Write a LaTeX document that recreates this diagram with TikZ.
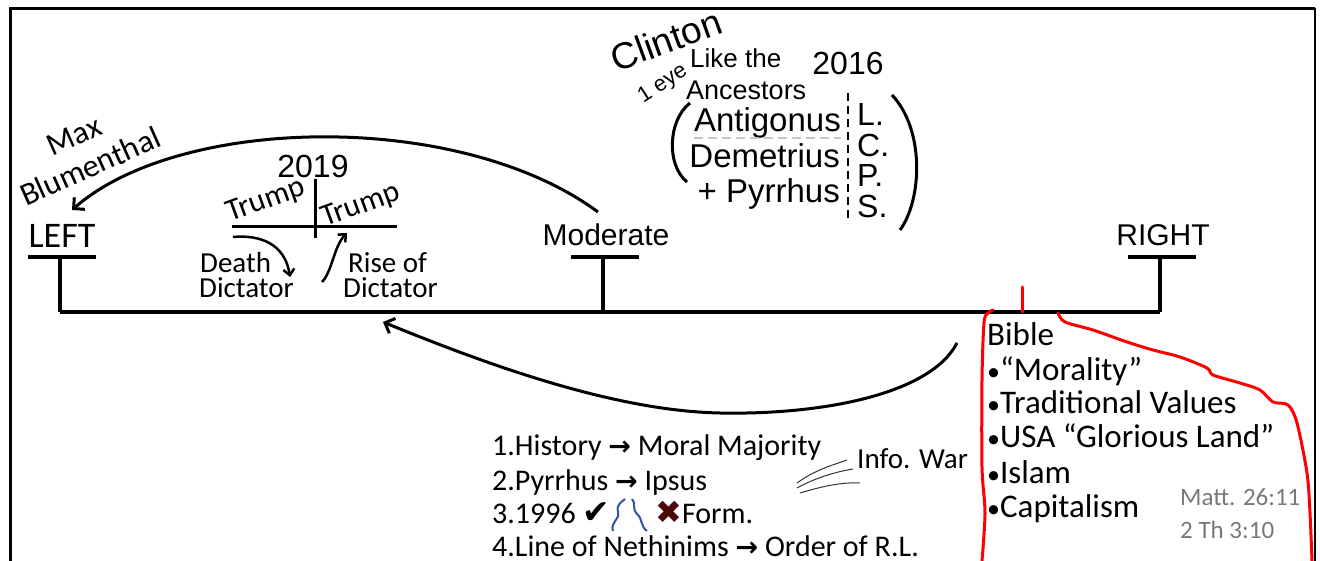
\documentclass[tikz,border=0pt]{standalone}
\usepackage{fontspec}
\setmainfont{Carlito}
\newfontfamily\arialfont{Liberation Sans}
\newfontfamily\symfont{DejaVu Sans}
\newfontfamily\symboldfont{DejaVu Sans Bold}
\usetikzlibrary{arrows.meta}

\definecolor{penred}{RGB}{255,0,0}
\definecolor{penblue}{RGB}{47,85,160}
\definecolor{crossred}{RGB}{75,10,10}
\definecolor{refgray}{RGB}{120,120,120}
\newcommand{\fsz}[1]{\fontsize{#1}{#1}\selectfont}
\newcommand{\listarrow}{{\symboldfont\fsz{27}→}}

\tikzset{
  lbl/.style={inner sep=0pt, anchor=base},
  lblw/.style={inner sep=0pt, anchor=base west},
  post/.style={line width=4pt},
  bigarrow/.style={line width=3pt, -{Straight Barb[length=8pt,width=16pt]}},
  smallarrow/.style={line width=2.5pt, -{Straight Barb[length=6pt,width=11pt]}},
  penline/.style={penred, line width=3pt, line cap=round, line join=round},
}

\begin{document}
\begin{tikzpicture}[x=1pt,y=-1pt]
        \useasboundingbox (0,0) rectangle (1320,561);

        % Frame
        \draw[line width=3pt] (10,561) -- (10,9) -- (1315,9);
        \draw[line width=2pt] (1315,8) -- (1315,561);

        % Define the scale
        \coordinate (axL) at (60,312);
        \coordinate (axM) at (603,312);
        \coordinate (axR) at (1160,312);
        \draw[post] (axL) -- (axR);
        \foreach \p in {axL,axM,axR}
            \draw[post] (\p) -- ++(0,-55) ++(-32,0) -- ++(68,0);

        \node[lbl, font=\fsz{36}] (left) at (62,248) {LEFT};
        \node[lbl, font=\arialfont\fsz{30}] (moderate) at (606,246) {Moderate};
        \node[lbl, font=\arialfont\fsz{30}] (right) at (1163,246) {RIGHT};

        % Max Blumenthal
        \node[font=\fsz{32}, rotate=24, inner sep=0pt] (max) at (74,136) {Max};
        \node[font=\fsz{32}, rotate=24, inner sep=0pt] (blum) at (90,166) {Blumenthal};
        \coordinate (upL) at (72,210);
        \coordinate (upM) at (598,212);
        \draw[bigarrow, {Straight Barb[length=8pt,width=16pt]}-] (upL) .. controls (180,115) and (460,110) .. (upM);

        % 2019 and Trump
        \node[lbl, font=\arialfont\fsz{32}] (y2019) at (313,178) {2019};
        \coordinate (tcL) at (232,227);
        \coordinate (tcR) at (397,227);
        \coordinate (tcT) at (315,179);
        \coordinate (tcB) at (315,238);
        \draw[line width=3pt] (tcL) -- (tcR);
        \draw[line width=3pt] (tcT) -- (tcB);
        \node[font=\fsz{31}, rotate=20, inner sep=0pt] (trumpA) at (266,201) {Trump};
        \node[font=\fsz{31}, rotate=20, inner sep=0pt] (trumpB) at (361,206) {Trump};

        \node[lblw, font=\fsz{29}] (death) at (200,273) {Death};
        \node[lblw, font=\fsz{29}] (dictA) at (199,298) {Dictator};
        \node[lblw, font=\fsz{29}] (rise) at (348,273) {Rise of};
        \node[lblw, font=\fsz{29}] (dictB) at (343,298) {Dictator};
        \coordinate (dthA) at (233,237);
        \coordinate (dthB) at (290,277);
        \coordinate (riseA) at (322,282);
        \coordinate (riseB) at (347,233);
        \draw[smallarrow] (dthA) .. controls (268,234) and (286,250) .. (dthB);
        \draw[smallarrow] (riseA) .. controls (332,272) and (334,246) .. (riseB);

        % Clinton 2016
        \node[font=\arialfont\fsz{37}, rotate=20, inner sep=0pt] (clinton) at (666,40) {Clinton};
        \node[font=\arialfont\fsz{22}, rotate=33, inner sep=0pt] (eye) at (663,84) {1 eye};
        \node[lblw, font=\arialfont\fsz{26}] (like) at (690,68) {Like the};
        \node[lblw, font=\arialfont\fsz{27}] (ances) at (686,100) {Ancestors};
        \node[lbl, font=\arialfont\fsz{32}] (y2016) at (848,75) {2016};

        \node[inner sep=0pt, anchor=base east, font=\arialfont\fsz{33}] (antig) at (841,132) {Antigonus};
        \node[inner sep=0pt, anchor=base east, font=\arialfont\fsz{33}] (demet) at (840,168) {Demetrius};
        \node[inner sep=0pt, anchor=base east, font=\arialfont\fsz{33}] (pyrr) at (840,203) {+ Pyrrhus};
        \draw[gray!45, line width=1.5pt, dash pattern=on 9pt off 5pt] (antig.base west) ++(0,6) -- (antig.base east |- 0,138);
        \draw[line width=2pt, dash pattern=on 8pt off 5pt] (848,93) -- (848,223);
        \node[lblw, font=\arialfont\fsz{32}] (ll) at (857,126) {L.};
        \node[lblw, font=\arialfont\fsz{32}] (cc) at (857,157) {C.};
        \node[lblw, font=\arialfont\fsz{32}] (pp) at (857,187) {P.};
        \node[lblw, font=\arialfont\fsz{32}] (ss) at (857,218) {S.};
        \draw[line width=3pt] (690,103) .. controls (668,120) and (666,165) .. (687,182);
        \draw[line width=3pt] (892,95) .. controls (925,130) and (922,200) .. (900,230);

        % Right side and Bible
        \draw[penline] (1022,287) -- (1022,312);
        \draw[penline] plot[smooth] coordinates {(993,310) (988,313) (984,323) (982,380) (982,467) (985,513) (982,561)};
        \draw[penline] plot[smooth] coordinates {(1058,313) (1065,322) (1093,330) (1127,342) (1153,350) (1180,357) (1207,368) (1213,375) (1240,383) (1260,390) (1273,402) (1288,405) (1297,423) (1307,473) (1310,513) (1312,561)};

        \node[lblw, font=\fsz{33}] (bible) at (987,345) {Bible};
        \node[lblw, font=\fsz{33}] (moral) at (987,380) {{\fsz{26}•}“Morality”};
        \node[lblw, font=\fsz{33}] (trad) at (987,413) {{\fsz{26}•}Traditional Values};
        \node[lblw, font=\fsz{33}] (usa) at (987,447) {{\fsz{26}•}USA “Glorious Land”};
        \node[lblw, font=\fsz{33}] (islam) at (987,483) {{\fsz{26}•}Islam};
        \node[lblw, font=\fsz{33}] (capit) at (987,517) {{\fsz{26}•}Capitalism};
        \node[lblw, font=\fsz{25}, text=refgray] (matt) at (1180,505) {Matt. 26:11};
        \node[lblw, font=\fsz{25}, text=refgray] (thess) at (1180,538) {2 Th 3:10};

        % Lower arrow
        \coordinate (loR) at (957,343);
        \coordinate (loL) at (383,322);
        \draw[bigarrow] (loR) .. controls (930,395) and (820,415) .. (720,413) .. controls (620,411) and (500,370) .. (loL);

        % List
        \node[lblw, font=\fsz{30}] (item1) at (492,455) {1.History \listarrow{} Moral Majority};
        \node[lblw, font=\fsz{30}] (item2) at (492,490) {2.Pyrrhus \listarrow{} Ipsus};
        \node[lblw, font=\fsz{30}] (item3) at (492,523) {3.1996 {\symfont\fsz{33}✔}};
        \node[lblw, font=\fsz{30}] (item3b) at (655,523) {{\symfont\fsz{32}\color{crossred}✖}Form.};
        \node[lblw, font=\fsz{30}] (item4) at (492,556) {4.Line of Nethinims \listarrow{} Order of R.L.};
        \draw[penblue, line width=2pt] (613,531) .. controls (610,522) and (620,520) .. (618,512) .. controls (616,504) and (622,502) .. (625,499);
        \draw[penblue, line width=2pt] (632,499) .. controls (636,503) and (632,510) .. (637,514) .. controls (643,519) and (640,526) .. (647,531);

        % Info. War
        \node[lblw, font=\fsz{29}] (info) at (857,468) {Info. War};
        \draw[black!80, line width=1pt] (797,483) .. controls (815,470) and (830,466) .. (847,460);
        \draw[black!80, line width=1pt] (797,488) .. controls (815,478) and (835,472) .. (853,469);
        \draw[black!80, line width=1pt] (800,493) .. controls (820,487) and (840,482) .. (860,483);
\end{tikzpicture}
\end{document}
